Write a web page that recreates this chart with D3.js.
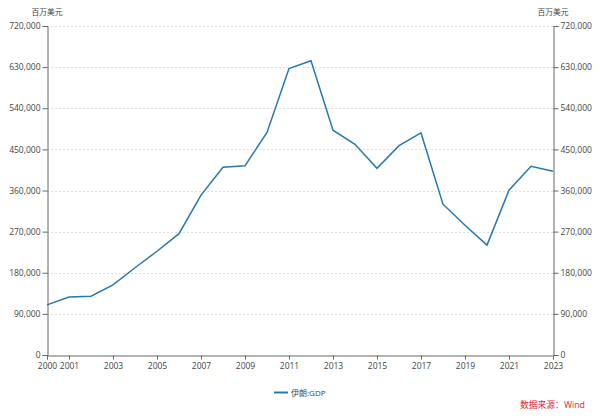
<!DOCTYPE html>
<html><head><meta charset="utf-8">
<script src="https://cdn.jsdelivr.net/npm/d3@7"></script>
<style>body{margin:0;background:#fff}svg{display:block}text{font-family:"Open Sans","Noto Sans CJK SC",sans-serif}</style>
</head><body>
<svg id="c" width="600" height="418"></svg>
<script>
const years = [2000,2001,2002,2003,2004,2005,2006,2007,2008,2009,2010,2011,2012,2013,2014,2015,2016,2017,2018,2019,2020,2021,2022,2023];
const gdp = [109600,126900,128600,153500,191000,227000,265500,350000,411000,414000,487000,627000,644000,492000,461000,408500,458000,486000,330000,284000,240500,360500,413000,402000];
const xLabels = [2000,2001,2003,2005,2007,2009,2011,2013,2015,2017,2019,2021,2023];
const yTicks = [0,90000,180000,270000,360000,450000,540000,630000,720000];
const seriesName = "伊朗:GDP";
const unit = "百万美元";
const source = "数据来源：Wind";

const svg = d3.select("#c");
const L=47, R=553, T=26, B=355;
const x = d3.scaleLinear().domain([2000,2023]).range([L,R]);
const y = d3.scaleLinear().domain([0,720000]).range([B,T]);
const fmt = d3.format(",");
const axisColor="#666", textColor="#444", lineColor="#2878ad";
const FS = 8.5;

// grid
svg.append("g").selectAll("line").data(yTicks.filter(d=>d>0)).join("line")
  .attr("x1",L).attr("x2",R).attr("y1",d=>Math.round(y(d))+0.5).attr("y2",d=>Math.round(y(d))+0.5)
  .attr("stroke","#ddd").attr("stroke-dasharray","2,2");

const minor = d3.range(0,720001,30000);
function yAxis(gen, xpos){
  const g = svg.append("g").attr("transform",`translate(${xpos+0.5},0)`);
  g.call(gen(y).tickValues(minor).tickSize(4).tickFormat(""));
  g.call(gen(y).tickValues(yTicks).tickSize(5).tickPadding(2).tickFormat(fmt));
  g.selectAll(".domain").attr("stroke",axisColor);
  g.selectAll("line").attr("stroke",axisColor);
  g.selectAll("text").attr("fill",textColor).attr("font-size",FS);
  return g;
}
yAxis(d3.axisLeft, L);
yAxis(d3.axisRight, R);

const xg = svg.append("g").attr("transform",`translate(0,${B+0.5})`);
xg.call(d3.axisBottom(x).tickValues(years).tickSize(4).tickFormat(""));
xg.call(d3.axisBottom(x).tickValues(xLabels).tickSize(4).tickPadding(2).tickFormat(d3.format("d")));
xg.selectAll(".domain").attr("stroke",axisColor);
xg.selectAll("line").attr("stroke",axisColor);
xg.selectAll("text").attr("fill",textColor).attr("font-size",FS).attr("dy","0.9em");

// line
svg.append("path").datum(years.map((d,i)=>[d,gdp[i]]))
  .attr("fill","none").attr("stroke",lineColor).attr("stroke-width",1.5)
  .attr("d",d3.line().x(d=>x(d[0])).y(d=>y(d[1])));

// unit labels
svg.append("text").attr("x",L).attr("y",15).attr("text-anchor","middle").attr("font-size",7.8).attr("fill",textColor).text(unit);
svg.append("text").attr("x",R).attr("y",15).attr("text-anchor","middle").attr("font-size",7.8).attr("fill",textColor).text(unit);

// legend
svg.append("line").attr("x1",274).attr("x2",288).attr("y1",392.5).attr("y2",392.5).attr("stroke",lineColor).attr("stroke-width",2);
svg.append("text").attr("x",291).attr("y",395.5).attr("font-size",8).attr("fill",textColor).text(seriesName);

// source
svg.append("text").attr("x",585).attr("y",408).attr("text-anchor","end").attr("font-size",8.8).attr("fill","#e0262b").text(source);
</script>
</body></html>
